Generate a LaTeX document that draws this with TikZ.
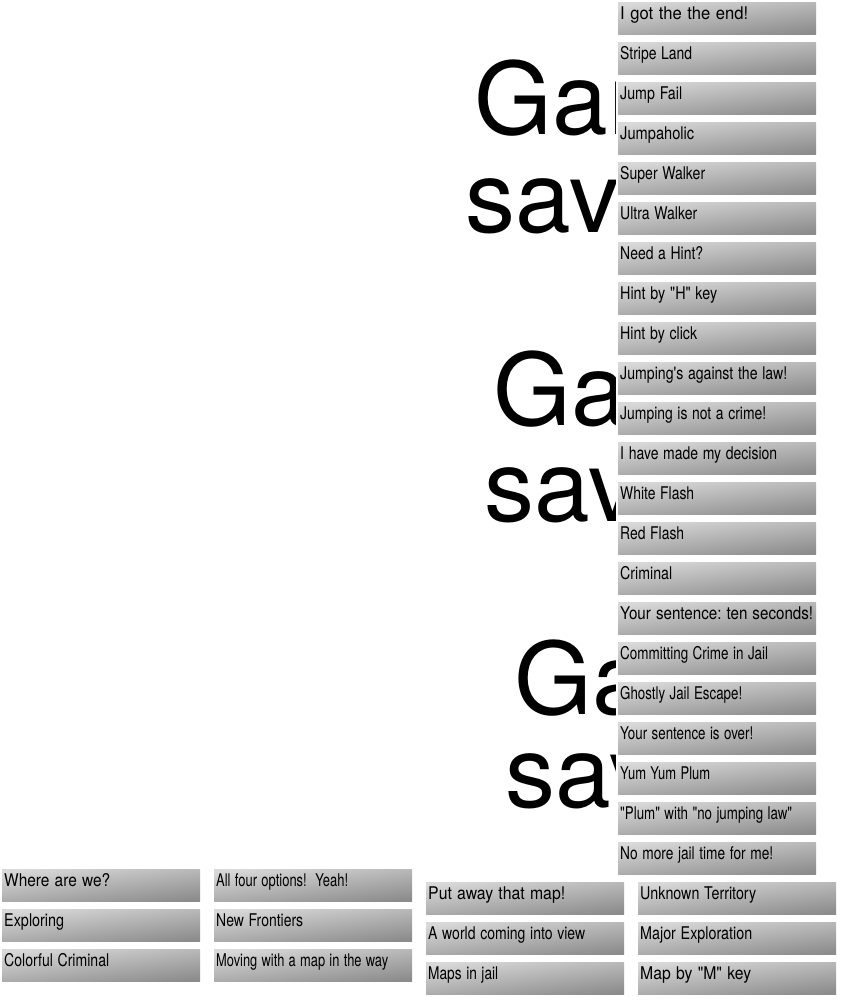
\documentclass[tikz,border=0pt]{standalone}
\usepackage{fontspec}
\setmainfont{TeX Gyre Heros}
\usepackage{graphicx}
\usepackage{tikz}
\frenchspacing

\newlength\fitwd
\newcommand\fitto[2]{\settowidth\fitwd{#2}\pgfmathsetmacro\fitr{#1/\fitwd}\scalebox{\fitr}[1]{#2}}
\newcommand\dq{\textquotedbl}

\tikzset{
  tab/.style={anchor=north west, minimum width=198pt, minimum height=32pt, inner sep=0pt,
    text width=194pt, align=left, text height=12pt, text depth=10pt,
    top color=gray!30, bottom color=gray!90, shading angle=7,
    font=\fontsize{17.5}{17.5}\selectfont},
  big/.style={anchor=base, inner sep=0pt, font=\fontsize{100}{100}\selectfont}
}

\begin{document}
\begin{tikzpicture}[x=1pt,y=-1pt]
				\useasboundingbox (0,0) rectangle (848,1000);

				% the saved message, three times, cut at the tabs
				\begin{scope}
					\clip (0,0) rectangle (615,1000);
					\node[big] (game1) at (611,135) {Game};
					\node[big] (saved1) at (611,233) {saved!};
					\node[big] (game2) at (629.6,425) {Game};
					\node[big] (saved2) at (629.6,521) {saved!};
					\node[big] (game3) at (650.6,714) {Game};
					\node[big] (saved3) at (650.6,807) {saved!};
				\end{scope}

				% right column
				\foreach \txt/\w [count=\i from 0] in {I got the the end!/128, Stripe Land/72, Jump Fail/62,
					Jumpaholic/74, Super Walker/85, Ultra Walker/77, Need a Hint?/83, Hint by \dq H\dq{} key/97,
					Hint by click/77, Jumping\textquotesingle s against the law!/167, Jumping is not a crime!/146,
					I have made my decision/157, White Flash/74, Red Flash/64, Criminal/52,
					Your sentence: ten seconds!/193, Committing Crime in Jail/148, Ghostly Jail Escape!/122,
					Your sentence is over!/133, Yum Yum Plum/90, \dq Plum\dq{} with \dq no jumping law\dq/172,
					No more jail time for me!/153}
					\node[tab] (r\i) at (618,{2+40*\i}) {\fitto{\w pt}{\txt}};

				% bottom rows
				\node[tab] (where) at (2,869) {\fitto{106pt}{Where are we?}};
				\node[tab] (explore) at (2,909) {\fitto{60pt}{Exploring}};
				\node[tab] (colorful) at (2,949) {\fitto{105pt}{Colorful Criminal}};

				\node[tab] (allfour) at (214,869) {\fitto{132pt}{All four options!~ Yeah!}};
				\node[tab] (frontiers) at (214,909) {\fitto{87pt}{New Frontiers}};
				\node[tab] (moving) at (214,949) {\fitto{172pt}{Moving with a map in the way}};

				\node[tab] (putaway) at (426,882) {\fitto{137pt}{Put away that map!}};
				\node[tab] (world) at (426,922) {\fitto{157pt}{A world coming into view}};
				\node[tab] (mapsjail) at (426,962) {\fitto{70pt}{Maps in jail}};

				\node[tab] (unknown) at (638,882) {\fitto{116pt}{Unknown Territory}};
				\node[tab] (major) at (638,922) {\fitto{112pt}{Major Exploration}};
				\node[tab] (mapkey) at (638,962) {\fitto{111pt}{Map by \dq M\dq{} key}};
			\end{tikzpicture}
\end{document}
